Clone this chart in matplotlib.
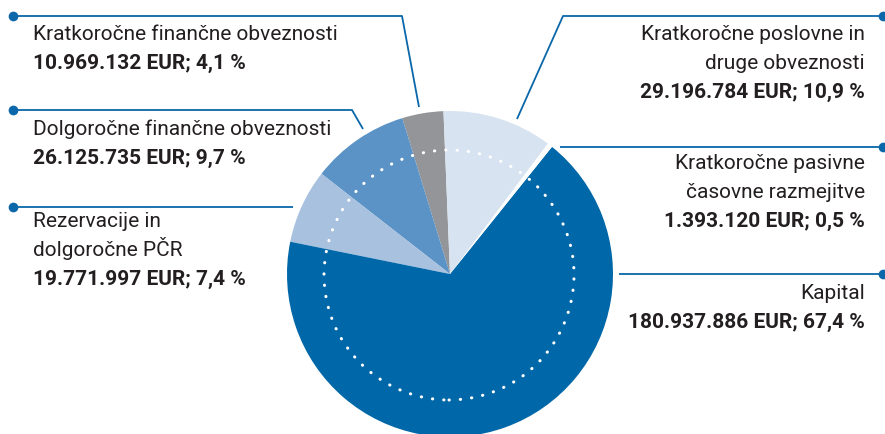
import matplotlib
matplotlib.use("Agg")
import matplotlib.pyplot as plt
from matplotlib.patches import Circle

# ── Podatki ────────────────────────────────────────────────
kategorije = [
    "Kratkoročne finančne obveznosti",
    "Dolgoročne finančne obveznosti",
    "Rezervacije in\ndolgoročne PČR",
    "Kapital",
    "Kratkoročne pasivne\nčasovne razmejitve",
    "Kratkoročne poslovne in\ndruge obveznosti",
]
zneski = [10969132, 26125735, 19771997, 180937886, 1393120, 29196784]
znesek_txt = ["10.969.132", "26.125.735", "19.771.997", "180.937.886", "1.393.120", "29.196.784"]
delez_txt = ["4,1", "9,7", "7,4", "67,4", "0,5", "10,9"]
barve = ["#939598", "#5b93c6", "#a8c1df", "#0067a8", "#ffffff", "#d7e3f0"]

MODRA = "#0a67a9"
TEKST = "#231f20"
plt.rcParams["font.family"] = ["Roboto", "DejaVu Sans"]

W, H = 885, 435
fig = plt.figure(figsize=(W / 100, H / 100), dpi=100)
ax = fig.add_axes([0, 0, 1, 1])

def Y(y):
    # slikovne koordinate (y navzdol) -> podatkovne
    return H - y

cx, cy, r = 450, Y(275), 163
ax.pie(zneski, colors=barve, startangle=92.3, counterclock=True,
       center=(cx, cy), radius=r, wedgeprops=dict(linewidth=0))

# pikčast krog
ax.add_patch(Circle((449, Y(276)), 125, fill=False, edgecolor="white",
                    linewidth=2.2, linestyle=(0, (0.1, 3.6)),
                    capstyle="round", zorder=5))

# ── Povezovalne črte ───────────────────────────────────────
crte = [
    ([13, 402, 419], [17, 17, 108]),
    ([13, 352, 363], [111, 111, 130]),
    ([13, 293], [208, 208]),
    ([883, 563, 517], [17, 17, 120]),
    ([883, 560], [148, 148]),
    ([883, 619], [275, 275]),
]
for xs, ys in crte:
    ax.plot(xs, [Y(v) for v in ys], color=MODRA, lw=1.3, solid_capstyle="butt")
    ax.plot(xs[0], Y(ys[0]), "o", color=MODRA, ms=7, mec="none")

# ── Oznake ─────────────────────────────────────────────────
FS = 15
LH = 28.8
pozicije = [  # (x, baseline prve vrstice, poravnava)
    (33, 40, "left"),
    (33, 135, "left"),
    (33, 227, "left"),
    (865, 299, "right"),
    (865, 169, "right"),
    (865, 40, "right"),
]
for kat, zn, de, (x, yb, ha) in zip(kategorije, znesek_txt, delez_txt, pozicije):
    vrstice = kat.split("\n")
    for i, v in enumerate(vrstice):
        ax.text(x, Y(yb + i * LH), v, ha=ha, va="baseline", fontsize=FS,
                color=TEKST)
    ax.text(x, Y(yb + len(vrstice) * LH), f"{zn} EUR; {de} %", ha=ha,
            va="baseline", fontsize=FS, fontweight="bold", color=TEKST)

ax.set_xlim(0, W)
ax.set_ylim(0, H)
ax.set_aspect("auto")
ax.axis("off")

fig.savefig("out.png", dpi=100)
